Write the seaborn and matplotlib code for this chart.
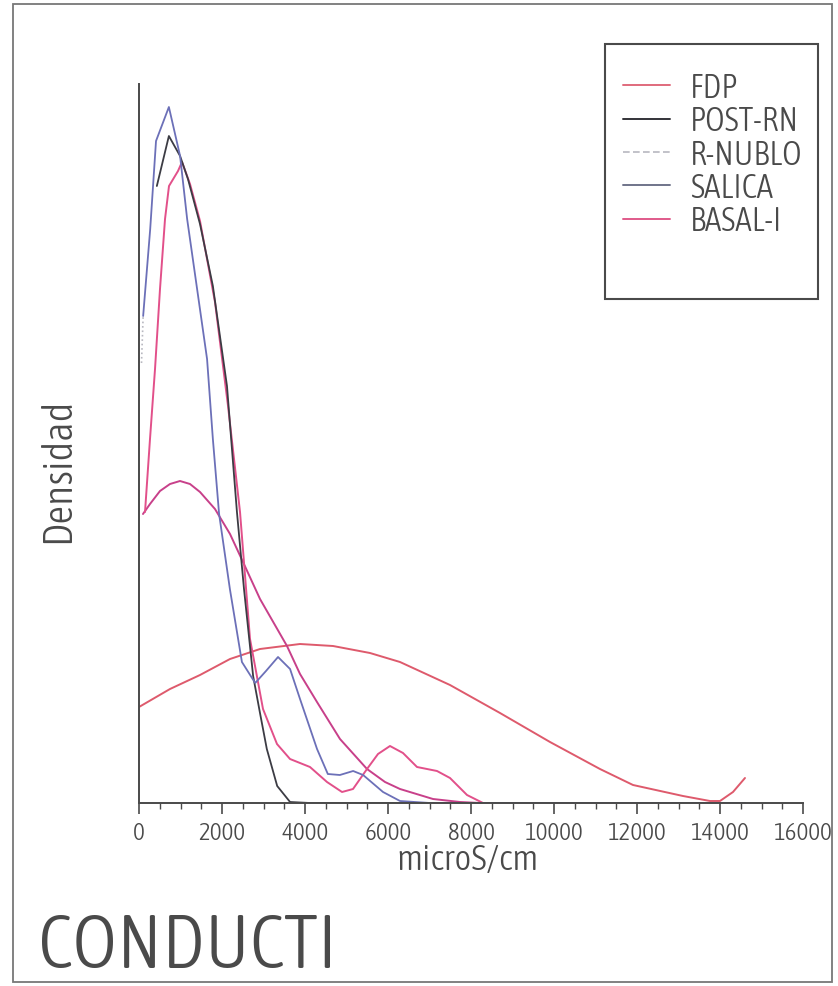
import matplotlib
matplotlib.use("Agg")
import matplotlib.pyplot as plt
from matplotlib import font_manager as fm
from matplotlib.lines import Line2D
from matplotlib.patches import Rectangle
import seaborn as sns
import pandas as pd
import numpy as np

# ---------------- data (microS/cm, densidad x1e-4) ----------------
salica_x = [100, 270, 410, 720, 990, 1160, 1400, 1640, 1780, 1930, 2190, 2480, 2800, 3060,
            3350, 3640, 3880, 4290, 4550, 4840, 5160, 5400, 5880, 6290, 7010, 14600]
salica_y = [4.87, 5.74, 6.62, 6.96, 6.47, 5.84, 5.14, 4.44, 3.64, 2.89, 2.14, 1.41, 1.20, 1.32,
            1.46, 1.34, 1.04, 0.54, 0.29, 0.28, 0.32, 0.28, 0.11, 0.02, 0.0, 0.0]

postrn_x = [430, 720, 990, 1180, 1470, 1780, 2120, 2360, 2530, 2750, 2920, 3080, 3330, 3640, 4120, 14600]
postrn_y = [6.17, 6.67, 6.47, 6.24, 5.79, 5.17, 4.17, 2.91, 2.14, 1.27, 0.89, 0.54, 0.17, 0.01, 0.0, 0.0]

rnublo_x = [60, 100]
rnublo_y = [4.40, 4.87]

basal_x = [145, 265, 386, 506, 627, 723, 940, 1036, 1229, 1470, 1831, 2145, 2434, 2675, 2988,
           3325, 3639, 4120, 4530, 4892, 5157, 5494, 5759, 6048, 6361, 6699, 7181, 7494, 7904,
           8289, 8699, 14600]
basal_y = [2.91, 3.64, 4.34, 5.14, 5.84, 6.17, 6.32, 6.41, 6.19, 5.82, 5.01, 3.97, 2.91, 1.64, 0.94,
           0.59, 0.44, 0.36, 0.21, 0.11, 0.14, 0.34, 0.49, 0.57, 0.50, 0.36, 0.32, 0.25, 0.08,
           0.0, 0.0, 0.0]

extra_x = [96, 265, 506, 747, 988, 1229, 1470, 1831, 2193, 2506, 2916, 3566, 3880, 4289, 4843,
           5494, 5928, 6289, 7084, 7735, 8217, 14600]
extra_y = [2.89, 2.99, 3.12, 3.19, 3.22, 3.19, 3.11, 2.94, 2.69, 2.41, 2.04, 1.57, 1.29, 1.01, 0.64,
           0.34, 0.21, 0.14, 0.04, 0.01, 0.0, 0.0]

fdp_x = [0, 747, 1470, 2193, 2916, 3880, 4675, 5566, 6289, 7494, 8699, 9904, 11108, 11904,
         13108, 13759, 14000, 14313, 14602]
fdp_y = [0.96, 1.14, 1.28, 1.44, 1.54, 1.59, 1.57, 1.50, 1.41, 1.18, 0.90, 0.61, 0.34, 0.18,
         0.07, 0.02, 0.02, 0.11, 0.25]

legend_labels = ["FDP", "POST-RN", "R-NUBLO", "SALICA", "BASAL-I"]
x_ticks = list(range(0, 16001, 2000))

# ---------------- font choice ----------------
sns.set_theme(style="white")


def pick_font():
    best = None
    for e in fm.fontManager.ttflist:
        nm = e.name
        st = str(e.stretch)
        if any(b in nm for b in ("Mono", "Serif", "CJK", "Math")):
            continue
        cond = ("condensed" in st) or ("Condensed" in nm) or ("Narrow" in nm)
        if not cond:
            continue
        try:
            w = int(e.weight)
        except Exception:
            w = {"light": 300, "normal": 400, "regular": 400, "book": 400}.get(str(e.weight), 500)
        if "italic" in str(e.style) or "oblique" in str(e.style):
            continue
        score = abs(w - 300)
        if best is None or score < best[0]:
            best = (score, e)
    if best is not None:
        return best[1].fname, best[1].name
    for e in fm.fontManager.ttflist:
        if e.name == "Roboto" and str(e.weight) in ("300", "light") and e.style == "normal":
            return e.fname, "Roboto light"
    return None, "DejaVu Sans"


fname, fontname = pick_font()


def fp(size):
    if fname:
        return fm.FontProperties(fname=fname, size=size)
    return fm.FontProperties(family="DejaVu Sans", size=size)


ink = "#4a4a4a"

fig = plt.figure(figsize=(8.38, 9.87), dpi=100)
fig.patch.set_facecolor("white")
ax = fig.add_axes([139 / 838, 1 - 804 / 987, (803 - 139) / 838, (804 - 85) / 987])
ax.set_facecolor("white")

series = [
    (fdp_x, fdp_y, "#de5a6c", "-", 1.4),
    (extra_x, extra_y, "#c8408a", "-", 1.4),
    (basal_x, basal_y, "#e2508a", "-", 1.4),
    (postrn_x, postrn_y, "#3c3c44", "-", 1.3),
    (salica_x, salica_y, "#6c70b8", "-", 1.3),
    (rnublo_x, rnublo_y, "#b8b8c0", ":", 1.2),
]
for xs, ys, c, ls, lw in series:
    df = pd.DataFrame({"x": xs, "y": ys})
    sns.lineplot(data=df, x="x", y="y", ax=ax, color=c, linestyle=ls, linewidth=lw,
                 sort=False, estimator=None, legend=False)

ax.set_xlim(0, 16000)
ax.set_ylim(0, 7.19)
ax.set_xlabel("")
ax.set_ylabel("")
for s in ("top", "right"):
    ax.spines[s].set_visible(False)
for s in ("left", "bottom"):
    ax.spines[s].set_color(ink)
    ax.spines[s].set_linewidth(1.4)
ax.set_yticks([])
ax.set_xticks(x_ticks)
ax.set_xticks(np.arange(0, 16001, 500), minor=True)
ax.tick_params(axis="x", which="major", direction="out", length=8, width=1.2, color=ink,
               bottom=True, pad=5)
ax.tick_params(axis="x", which="minor", direction="out", length=4, width=1.0, color=ink,
               bottom=True)
ax.set_xticklabels([str(t) for t in x_ticks])
for lab in ax.get_xticklabels():
    lab.set_fontproperties(fp(18))
    lab.set_color(ink)

fig.text(468 / 838, 1 - 860 / 987, "microS/cm", fontproperties=fp(26), color=ink,
         ha="center", va="center")
fig.text(58 / 838, 1 - 470 / 987, "Densidad", fontproperties=fp(30), color=ink,
         ha="center", va="center", rotation=90)
fig.text(38 / 838, 1 - 968 / 987, "CONDUCTI", fontproperties=fp(55), color=ink,
         ha="left", va="baseline")

# legend
handles = [
    Line2D([], [], color="#e06a7c", lw=1.4),
    Line2D([], [], color="#333338", lw=1.4),
    Line2D([], [], color="#b8b8c0", lw=1.2, linestyle=(0, (4, 2))),
    Line2D([], [], color="#70748a", lw=1.4),
    Line2D([], [], color="#e05a8a", lw=1.4),
]
leg_fs = 24
fs_px = leg_fs * 100 / 72
leg = fig.legend(handles, legend_labels, loc="upper left",
                 bbox_to_anchor=(623 / 838, 1 - 72 / 987), frameon=False,
                 prop=fp(leg_fs), handlelength=47 / fs_px, handletextpad=20 / fs_px,
                 labelspacing=0.01, borderpad=0, borderaxespad=0)
for t in leg.get_texts():
    t.set_color(ink)
fig.patches.append(Rectangle((605 / 838, 1 - 300 / 987), (818 - 605) / 838, (300 - 45) / 987,
                             transform=fig.transFigure, fill=False, edgecolor=ink, lw=1.5))

# outer frame
fig.patches.append(Rectangle((13 / 838, 1 - 983 / 987), (832 - 13) / 838, (983 - 5) / 987,
                             transform=fig.transFigure, fill=False, edgecolor="#777777", lw=1.3))

fig.savefig("out.png", dpi=100)
